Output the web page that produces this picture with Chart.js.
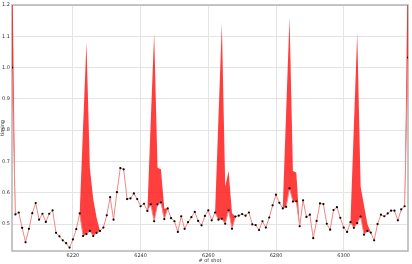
<html>
<head>
    <script src="https://cdn.jsdelivr.net/npm/chart.js"></script>
    <style>
        body { margin: 0; background: #fff; }
    </style>
</head>
<body>
    <div style="width: 412px; height: 264px">
        <canvas id="myChart" width="412" height="264"></canvas>
    </div>

    <script>
        // shot numbers on the x axis
        const shots = [
            6202, 6203, 6204, 6205, 6206, 6207, 6208, 6209, 6210, 6211,
            6212, 6213, 6214, 6215, 6216, 6217, 6218, 6219, 6220, 6221,
            6222, 6223, 6224, 6225, 6226, 6227, 6228, 6229, 6230, 6231,
            6232, 6233, 6234, 6235, 6236, 6237, 6238, 6239, 6240, 6241,
            6242, 6243, 6244, 6245, 6246, 6247, 6248, 6249, 6250, 6251,
            6252, 6253, 6254, 6255, 6256, 6257, 6258, 6259, 6260, 6261,
            6262, 6263, 6264, 6265, 6266, 6267, 6268, 6269, 6270, 6271,
            6272, 6273, 6274, 6275, 6276, 6277, 6278, 6279, 6280, 6281,
            6282, 6283, 6284, 6285, 6286, 6287, 6288, 6289, 6290, 6291,
            6292, 6293, 6294, 6295, 6296, 6297, 6298, 6299, 6300, 6301,
            6302, 6303, 6304, 6305, 6306, 6307, 6308, 6309, 6310, 6311,
            6312, 6313, 6314, 6315, 6316, 6317, 6318, 6319
        ];

        // measured value per shot (pink line, black dots)
        const measured = [
            1.000, 0.531, 0.537, 0.488, 0.442, 0.485, 0.535, 0.567, 0.514, 0.533,
            0.507, 0.533, 0.544, 0.472, 0.461, 0.448, 0.439, 0.425, 0.451, 0.484,
            0.534, 0.462, 0.468, 0.478, 0.462, 0.472, 0.478, 0.489, 0.528, 0.586,
            0.514, 0.602, 0.679, 0.675, 0.580, 0.582, 0.598, 0.580, 0.557, 0.565,
            0.542, 0.563, 0.509, 0.563, 0.569, 0.516, 0.550, 0.519, 0.509, 0.475,
            0.525, 0.485, 0.506, 0.522, 0.539, 0.510, 0.496, 0.526, 0.544, 0.512,
            0.537, 0.514, 0.517, 0.501, 0.544, 0.485, 0.524, 0.527, 0.532, 0.527,
            0.537, 0.499, 0.497, 0.481, 0.509, 0.489, 0.521, 0.560, 0.594, 0.568,
            0.550, 0.555, 0.614, 0.572, 0.573, 0.493, 0.576, 0.523, 0.530, 0.455,
            0.510, 0.566, 0.564, 0.501, 0.482, 0.545, 0.554, 0.520, 0.489, 0.475,
            0.506, 0.488, 0.503, 0.524, 0.466, 0.478, 0.473, 0.448, 0.500, 0.530,
            0.525, 0.534, 0.543, 0.543, 0.512, 0.547, 0.557, 1.032
        ];

        // upper bound per shot (red band is filled between this and measured)
        const upperBound = [
            1.400, 0.531, 0.537, 0.488, 0.442, 0.485, 0.535, 0.567, 0.514, 0.533,
            0.507, 0.533, 0.544, 0.472, 0.461, 0.448, 0.439, 0.425, 0.451, 0.484,
            0.534, 0.810, 1.080, 0.680, 0.580, 0.520, 0.478, 0.489, 0.528, 0.586,
            0.514, 0.602, 0.679, 0.675, 0.580, 0.582, 0.598, 0.580, 0.557, 0.565,
            0.542, 0.830, 1.110, 0.680, 0.675, 0.550, 0.550, 0.519, 0.509, 0.475,
            0.525, 0.485, 0.506, 0.522, 0.539, 0.510, 0.496, 0.526, 0.544, 0.512,
            0.537, 0.840, 1.140, 0.620, 0.670, 0.535, 0.524, 0.527, 0.532, 0.527,
            0.537, 0.499, 0.497, 0.481, 0.509, 0.489, 0.521, 0.560, 0.594, 0.568,
            0.550, 0.860, 1.160, 0.670, 0.665, 0.493, 0.576, 0.523, 0.530, 0.455,
            0.510, 0.566, 0.564, 0.501, 0.482, 0.545, 0.554, 0.520, 0.489, 0.475,
            0.506, 0.810, 1.110, 0.620, 0.560, 0.500, 0.473, 0.448, 0.500, 0.530,
            0.525, 0.534, 0.543, 0.543, 0.512, 0.547, 0.557, 1.400
        ];

        const xTicks = [6220, 6240, 6260, 6280, 6300];
        const yTicks = [0.5, 0.6, 0.7, 0.8, 0.9, 1.0, 1.1, 1.2];

        const tickFont = { family: 'DejaVu Sans', size: 5 };

        // grey box round the plot area, like the matplotlib frame
        const frame = {
            id: 'frame',
            beforeDatasetsDraw(chart) {
                const a = chart.chartArea;
                const c = chart.ctx;
                c.save();
                c.strokeStyle = '#b4b4b4';
                c.lineWidth = 1.5;
                c.strokeRect(a.left, a.top, a.right - a.left, a.bottom - a.top);
                c.restore();
            }
        };

        const ctx = document.getElementById('myChart').getContext('2d');
        const myChart = new Chart(ctx, {
            type: 'line',
            data: {
                datasets: [
                    {
                        data: shots.map((s, i) => ({ x: s, y: measured[i] })),
                        borderColor: 'rgb(240, 135, 135)',
                        borderWidth: 1,
                        pointRadius: 1.1,
                        pointBackgroundColor: '#000',
                        pointBorderWidth: 0,
                        tension: 0,
                        fill: false
                    },
                    {
                        data: shots.map((s, i) => ({ x: s, y: upperBound[i] })),
                        borderColor: 'rgba(0,0,0,0)',
                        borderWidth: 0,
                        pointRadius: 0,
                        tension: 0,
                        fill: '-1',
                        backgroundColor: 'rgba(255, 20, 20, 0.82)'
                    }
                ]
            },
            plugins: [frame],
            options: {
                responsive: false,
                animation: false,
                devicePixelRatio: 1,
                layout: { padding: { top: 4, right: 3, left: 0, bottom: 0 } },
                plugins: {
                    legend: { display: false },
                    tooltip: { enabled: false }
                },
                scales: {
                    x: {
                        type: 'linear',
                        min: 6202,
                        max: 6319,
                        afterBuildTicks: s => { s.ticks = xTicks.map(v => ({ value: v })); },
                        afterFit: s => { s.height = 13; },
                        grid: { color: '#e4e4e4', drawTicks: false },
                        border: { display: false },
                        ticks: {
                            font: tickFont,
                            color: '#333',
                            padding: 2,
                            maxRotation: 0,
                            autoSkip: false,
                            callback: v => String(v)
                        },
                        title: {
                            display: true,
                            text: '# of shot',
                            font: tickFont,
                            color: '#333',
                            padding: 0
                        }
                    },
                    y: {
                        min: 0.414,
                        max: 1.2,
                        afterBuildTicks: s => { s.ticks = yTicks.map(v => ({ value: v })); },
                        afterFit: s => { s.width = 12; },
                        grid: { color: '#e4e4e4', drawTicks: false },
                        border: { display: false },
                        ticks: {
                            font: tickFont,
                            color: '#333',
                            padding: 2,
                            callback: v => v.toFixed(1)
                        },
                        title: {
                            display: true,
                            text: 'timing',
                            font: tickFont,
                            color: '#333',
                            padding: 0
                        }
                    }
                }
            }
        });
    </script>
</body>
</html>
